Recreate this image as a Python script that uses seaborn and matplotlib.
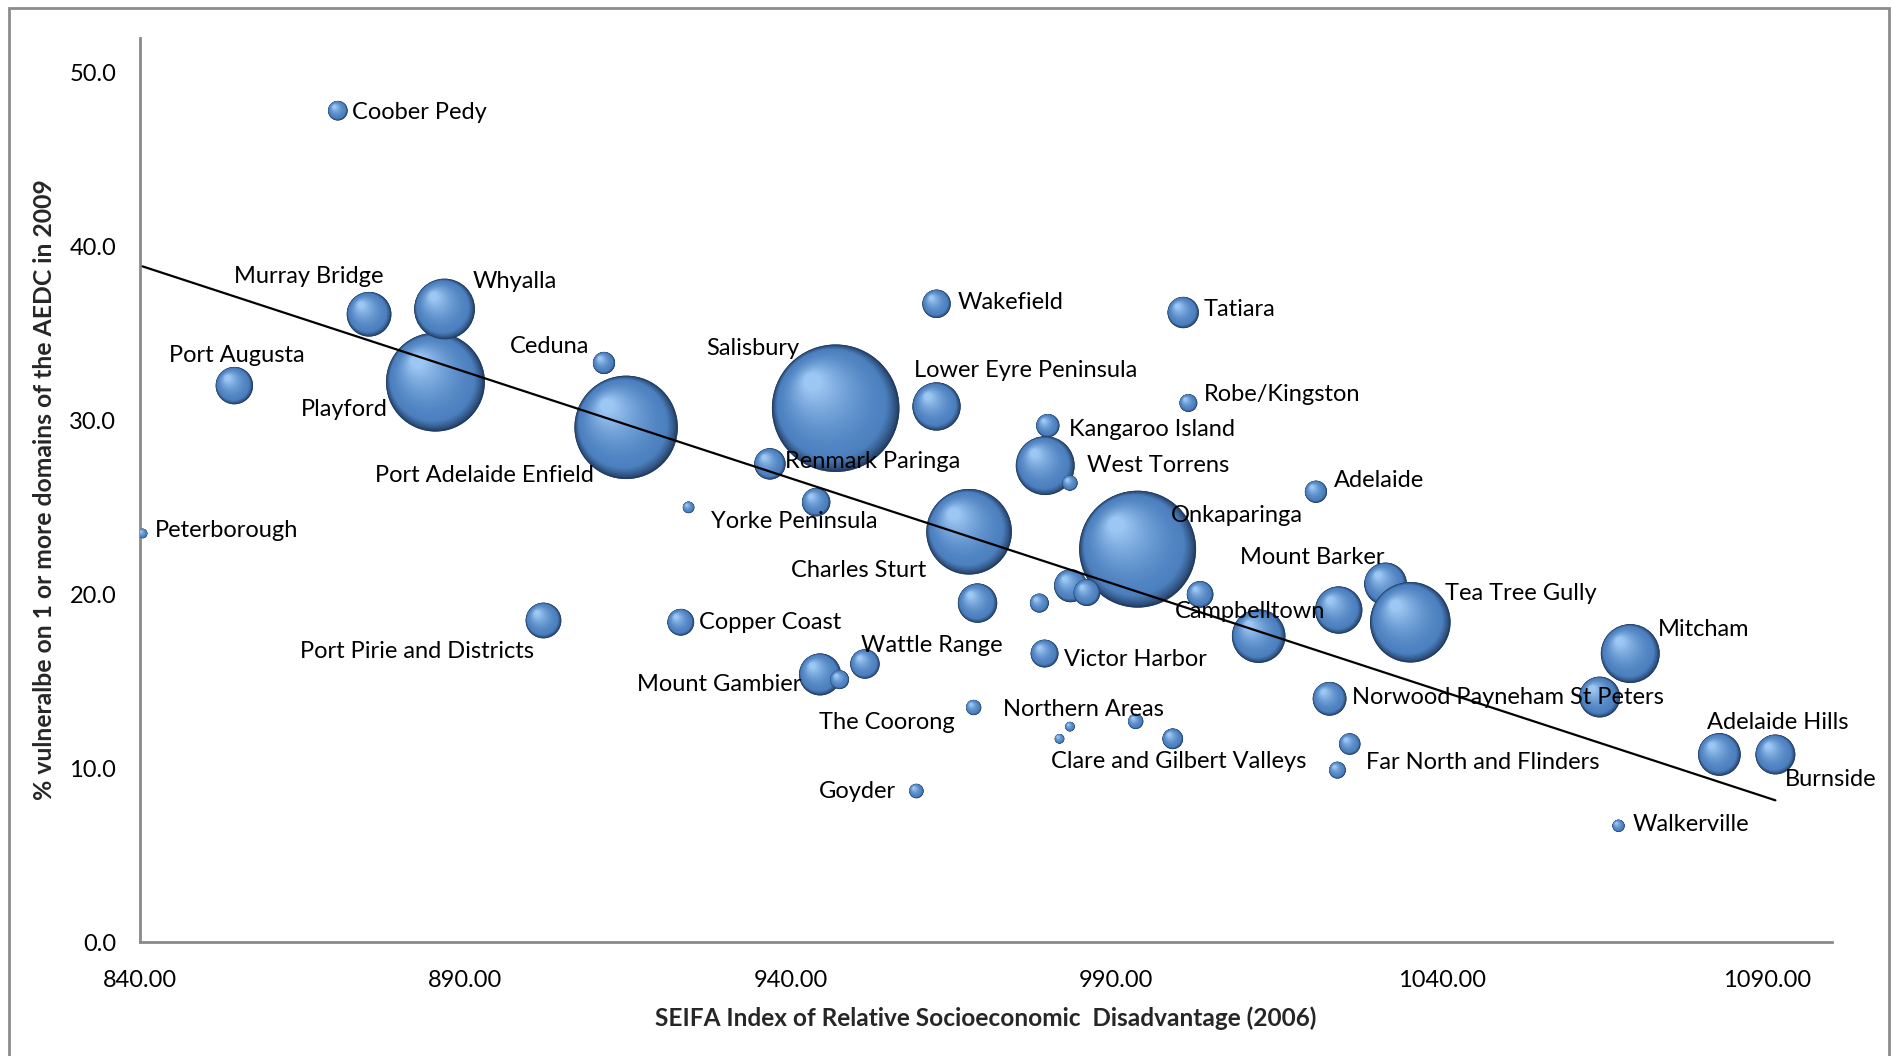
import numpy as np
import pandas as pd
import matplotlib
matplotlib.use("Agg")
import matplotlib.pyplot as plt
import seaborn as sns
from matplotlib.colors import to_rgb
from matplotlib.patches import Rectangle
from matplotlib.transforms import IdentityTransform

# ---------------------------------------------------------------------------
# South Australian local government areas: SEIFA disadvantage index (2006),
# % of children developmentally vulnerable on 1+ AEDC domains (2009),
# and number of children assessed (bubble size).
# ---------------------------------------------------------------------------
regions = [
    "Coober Pedy", "Murray Bridge", "Playford", "Whyalla", "Port Augusta",
    "Ceduna", "Port Adelaide Enfield", "Salisbury", "Renmark Paringa",
    "Peterborough", "Yorke Peninsula", "", "Lower Eyre Peninsula",
    "Wakefield", "Tatiara", "Robe/Kingston", "Kangaroo Island",
    "West Torrens", "", "Adelaide", "Charles Sturt", "Onkaparinga",
    "", "", "", "", "", "Campbelltown", "", "Mount Barker",
    "Tea Tree Gully", "Mitcham", "Norwood Payneham St Peters", "",
    "Adelaide Hills", "Burnside", "Walkerville", "Far North and Flinders",
    "", "Victor Harbor", "Wattle Range", "Mount Gambier", "",
    "The Coorong", "Northern Areas", "", "", "Clare and Gilbert Valleys",
    "Goyder", "Port Pirie and Districts", "Copper Coast",
]

seifa = [
    870.4, 875.2, 885.4, 886.8, 854.5,
    911.3, 914.7, 946.9, 936.8,
    840.4, 924.3, 943.9, 962.4,
    962.4, 1000.3, 1001.1, 979.5,
    979.1, 982.9, 1020.7, 967.4, 993.3,
    983.0, 985.5, 968.7, 978.2, 1002.9, 1011.9, 1024.2, 1031.4,
    1035.2, 1069.0, 1022.8, 1064.3,
    1082.7, 1091.3, 1067.2, 1025.9,
    1024.0, 979.0, 951.4, 944.5, 947.5,
    968.1, 982.9, 993.0, 981.3, 998.7,
    959.3, 902.0, 923.1,
]

vulnerable = [
    47.8, 36.1, 32.2, 36.4, 32.0,
    33.3, 29.6, 30.7, 27.5,
    23.5, 25.0, 25.3, 30.8,
    36.7, 36.2, 31.0, 29.7,
    27.4, 26.4, 25.9, 23.6, 22.6,
    20.5, 20.1, 19.5, 19.5, 20.0, 17.6, 19.1, 20.6,
    18.4, 16.6, 14.0, 14.1,
    10.8, 10.8, 6.7, 11.4,
    9.9, 16.6, 16.0, 15.4, 15.1,
    13.5, 12.4, 12.7, 11.7, 11.7,
    8.7, 18.5, 18.4,
]

children = [
    46, 240, 1177, 444, 168,
    59, 1288, 1959, 118,
    11, 16, 97, 280,
    97, 118, 38, 65,
    417, 28, 59, 882, 1647,
    131, 85, 186, 43, 85, 345, 269, 219,
    781, 417, 137, 200,
    219, 191, 18, 55,
    34, 93, 104, 212, 43,
    28, 11, 28, 11, 51,
    25, 153, 86,
]

# Linear trendline (% vulnerable = intercept + slope * (SEIFA - 840))
trend_intercept = 38.9
trend_slope = -0.1223

# Data-label offsets from each bubble centre, in points (left edge, middle)
label_offsets = [
    (10, -1), (-97, 27), (-97, -20), (20, 20), (-47, 22),
    (-68, 12), (-181, -35), (-93, 43), (11, 2),
    (9, 2), (16, -10), (0, 0), (-16, 26),
    (15, 1), (15, 2), (11, 6), (15, -3),
    (30, 0), (0, 0), (13, 8), (-128, -28), (24, 24),
    (0, 0), (0, 0), (0, 0), (0, 0), (0, 0), (-60, 18), (0, 0), (-105, 19),
    (25, 21), (20, 17), (16, 1), (0, 0),
    (-9, 23), (7, -18), (10, 1), (12, -13),
    (0, 0), (14, -4), (-3, 13), (-132, -7), (0, 0),
    (-111, -11), (-48, 12), (0, 0), (0, 0), (-88, -16),
    (-70, 0), (-175, -22), (13, 0),
]

df = pd.DataFrame({"region": regions, "seifa": seifa,
                   "vulnerable": vulnerable, "children": children})

W, H, DPI = 1892, 1056, 100
sns.set_style("white")
plt.rcParams["font.family"] = ["Lato", "DejaVu Sans"]

fig = plt.figure(figsize=(W / DPI, H / DPI), dpi=DPI)
ax = fig.add_axes([140 / W, 1 - 942.4 / H, (1832 - 140) / W, (942.4 - 37.6) / H])

AREA_PER_CHILD = 4.3  # marker area (pt^2) per assessed child
sizes = (min(children) * AREA_PER_CHILD, max(children) * AREA_PER_CHILD)

# Base bubbles
sns.scatterplot(data=df, x="seifa", y="vulnerable", size="children",
                sizes=sizes, size_norm=(min(children), max(children)),
                color="#284b7a", linewidth=0, legend=False, ax=ax, zorder=2)

ax.set_xlim(840, 1100)
ax.set_ylim(0, 52)

# Sphere shading: stacked, shrinking discs drifting toward the upper-left
dark = np.array(to_rgb("#223c62"))
body = np.array(to_rgb("#4c80bf"))
light = np.array(to_rgb("#9cc6f3"))
n_layers = 40
px_per_pt = DPI / 72.0
centres = ax.transData.transform(np.column_stack([seifa, vulnerable]))
for (cx, cy), n in zip(centres, children):
    r_px = np.sqrt(n * AREA_PER_CHILD) / 2 * px_per_pt
    xs, ys, ss, cs = [], [], [], []
    for i in range(n_layers):
        t = i / (n_layers - 1)
        frac = 1 - 0.86 * t
        shift = (1 - frac) * r_px
        xs.append(cx - 0.42 * shift)
        ys.append(cy + 0.48 * shift)
        ss.append((2 * frac * r_px / px_per_pt) ** 2)
        if t < 0.16:
            u = (t / 0.16) ** 0.8
            cs.append(dark + (body - dark) * u)
        else:
            u = ((t - 0.16) / 0.84) ** 1.5
            cs.append(body + (light - body) * u)
    ax.scatter(xs, ys, s=ss, c=np.array(cs), linewidths=0,
               transform=IdentityTransform(), zorder=3)

# Trendline across the range of the data
x_line = np.array([min(seifa), max(seifa)])
y_line = trend_intercept + trend_slope * (x_line - 840)
sns.lineplot(x=x_line, y=y_line, color="black", lw=1.6, ax=ax, zorder=4)

# Data labels
for name, x, y, (dx, dy) in zip(regions, seifa, vulnerable, label_offsets):
    if name:
        ax.annotate(name, xy=(x, y), xytext=(dx, dy), textcoords="offset points",
                    ha="left", va="center", fontsize=17, color="black", zorder=5)

# Axes styling
ax.set_xticks(np.arange(840, 1091, 50))
ax.set_yticks(np.arange(0, 51, 10))
ax.xaxis.set_major_formatter(plt.FormatStrFormatter("%.2f"))
ax.yaxis.set_major_formatter(plt.FormatStrFormatter("%.1f"))
for side in ("top", "right"):
    ax.spines[side].set_visible(False)
for side in ("left", "bottom"):
    ax.spines[side].set_color("#8a8a8a")
    ax.spines[side].set_linewidth(2)
ax.tick_params(axis="both", direction="out", length=7, width=1.5,
               color="#8a8a8a", labelsize=17, labelcolor="black")
ax.tick_params(axis="x", pad=13)
ax.tick_params(axis="y", pad=10)

ax.set_xlabel("SEIFA Index of Relative Socioeconomic  Disadvantage (2006)",
              fontsize=17.6, fontweight="bold", labelpad=11)
ax.set_ylabel("% vulneralbe on 1 or more domains of the AEDC in 2009",
              fontsize=17.8, fontweight="bold", labelpad=10)

# Chart-area border
fig.patches.append(Rectangle((9 / W, -0.02), (1889 - 9) / W, (1056 - 8) / H + 0.02,
                             transform=fig.transFigure, fill=False,
                             edgecolor="#8c8c8c", linewidth=2))

fig.savefig("out.png", dpi=DPI)
